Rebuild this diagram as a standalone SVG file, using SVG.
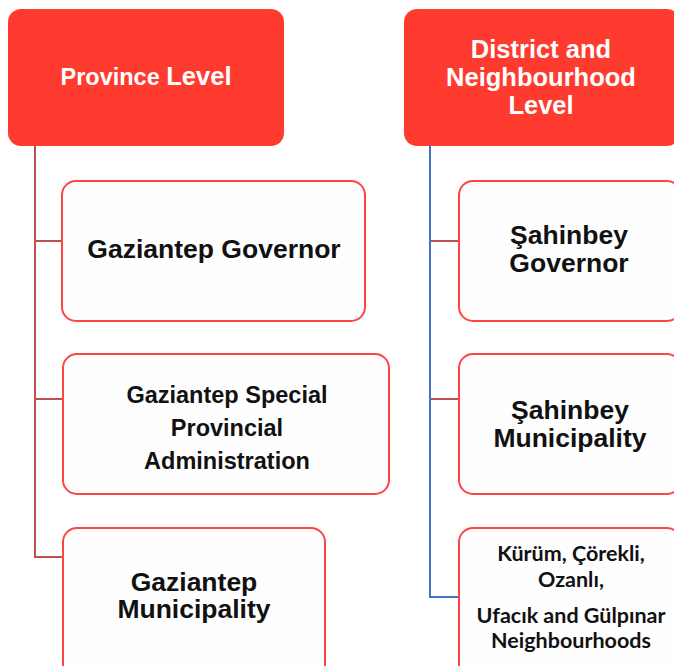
<svg xmlns="http://www.w3.org/2000/svg" width="674" height="666" viewBox="0 0 674 666">
<style>
.hdr{fill:#FF3A2F;}
.box{fill:#FEFEFE;stroke:#FF4444;stroke-width:2;}
.ht{font-family:"Liberation Sans",Arial,sans-serif;font-weight:bold;fill:#FFFFFF;text-anchor:middle;}
.bt{font-family:"Liberation Sans",Arial,sans-serif;font-weight:bold;fill:#111111;text-anchor:middle;}
.ct{font-family:Lato,"Open Sans",sans-serif;font-weight:bold;fill:#111111;text-anchor:middle;font-size:21.5px;}
.red{stroke:#C0504D;stroke-width:2;fill:none;}
.blue{stroke:#4472C4;stroke-width:2;fill:none;}
</style>
<rect width="674" height="666" fill="#FFFFFF"/>
<g id="connectors">
<path class="red" d="M35 146 V557 H63 M35 241 H62 M35 399 H63"/>
<path class="blue" d="M430 146 V597 H459"/>
<path class="red" d="M431 241 H459 M431 399 H459"/>
</g>
<g id="province-level">
<rect class="hdr" x="8" y="9" width="276" height="137" rx="13"/>
<text class="ht" x="146" y="85"><tspan font-size="23.5">Province </tspan><tspan font-size="25.5">Level</tspan></text>
</g>
<g id="district-level">
<rect class="hdr" x="404" y="9" width="276" height="137" rx="13"/>
<text class="ht" font-size="25.5" x="541" y="58">District and</text>
<text class="ht" font-size="25.5" x="541" y="86">Neighbourhood</text>
<text class="ht" font-size="25.5" x="541" y="114">Level</text>
</g>
<g id="gaziantep-governor">
<rect class="box" x="62" y="181" width="303" height="140" rx="14"/>
<text class="bt" font-size="26.5" x="214" y="258">Gaziantep Governor</text>
</g>
<g id="gaziantep-special">
<rect class="box" x="63" y="354" width="326" height="140" rx="14"/>
<text class="bt" font-size="23.5" x="227" y="403">Gaziantep Special</text>
<text class="bt" font-size="23.5" x="227" y="436">Provincial</text>
<text class="bt" font-size="23.5" x="227" y="469">Administration</text>
</g>
<g id="gaziantep-municipality">
<rect class="box" x="63" y="528" width="262" height="160" rx="14"/>
<text class="bt" font-size="26.5" x="194" y="591">Gaziantep</text>
<text class="bt" font-size="26.5" x="194" y="618">Municipality</text>
</g>
<g id="sahinbey-governor">
<rect class="box" x="459" y="181" width="222" height="140" rx="14"/>
<text class="bt" font-size="26.5" x="569" y="244">Şahinbey</text>
<text class="bt" font-size="26.5" x="569" y="272">Governor</text>
</g>
<g id="sahinbey-municipality">
<rect class="box" x="459" y="354" width="222" height="140" rx="14"/>
<text class="bt" font-size="26.5" x="570" y="419">Şahinbey</text>
<text class="bt" font-size="26.5" x="570" y="447">Municipality</text>
</g>
<g id="neighbourhoods">
<rect class="box" x="459" y="528" width="222" height="160" rx="14"/>
<text class="ct" x="571" y="561">Kürüm, Çörekli,</text>
<text class="ct" x="571" y="587">Ozanlı,</text>
<text class="ct" x="571" y="623">Ufacık and Gülpınar</text>
<text class="ct" x="571" y="648">Neighbourhoods</text>
</g>
</svg>
